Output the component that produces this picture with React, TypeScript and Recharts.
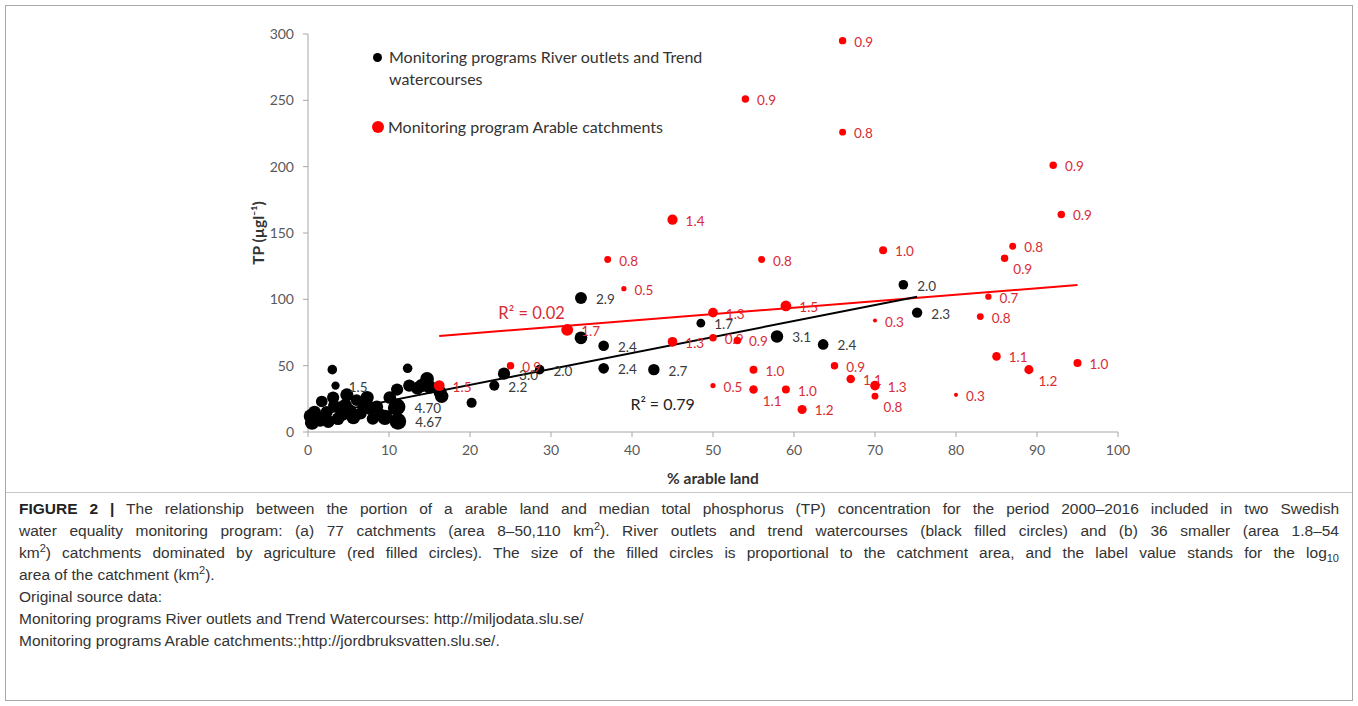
import { ScatterChart, Scatter, XAxis, YAxis, ReferenceLine, ReferenceDot } from 'recharts';

// [% arable land, TP (µg/l), log10 catchment area (km2), label]
const riverPoints: [number, number, number, string][] = [
  [0.3, 12, 3.5, ''], [0.5, 7, 3.8, ''], [0.8, 15, 3.2, ''], [1.0, 10, 3.6, ''],
  [1.5, 9, 3.4, ''], [1.7, 23, 2.8, ''], [2.0, 12, 3.0, ''], [2.3, 15, 3.0, ''],
  [2.5, 8, 3.3, ''], [3.0, 47, 2.0, ''], [3.1, 26, 3.0, ''], [3.2, 20, 2.8, ''],
  [3.7, 10, 3.2, ''], [4.0, 18, 3.6, ''], [4.3, 13, 3.0, ''], [4.6, 20, 3.5, ''],
  [4.8, 28, 3.4, ''], [5.2, 16, 3.2, ''], [5.6, 11, 3.6, ''], [6.0, 24, 2.8, ''],
  [6.5, 14, 3.0, ''], [7.0, 19, 3.8, ''], [7.3, 26, 3.4, ''], [7.7, 18, 3.6, ''],
  [8.0, 10, 3.0, ''], [8.5, 19, 3.2, ''], [9.0, 13, 3.0, ''], [9.5, 11, 4.2, ''],
  [10.1, 26, 3.2, ''], [10.7, 18, 3.6, ''], [11.0, 32, 3.0, ''],
  [12.3, 48, 2.0, ''], [12.5, 35, 3.0, ''], [13.5, 33, 3.2, ''], [14.0, 35, 3.4, ''],
  [14.7, 40, 3.6, ''], [15.0, 34, 3.5, ''], [16.3, 30, 3.3, ''], [16.5, 27, 3.5, ''],
  [20.2, 22, 2.2, ''], [33.7, 71, 3.2, ''],
  [3.4, 35, 1.5, '1.5'], [11.0, 19, 4.7, '4.70'], [11.1, 8, 4.67, '4.67'],
  [23.0, 35, 2.2, '2.2'], [24.2, 44, 3.0, '3.0'], [28.6, 47, 2.0, '2.0'],
  [33.7, 101, 2.9, '2.9'], [36.5, 65, 2.4, '2.4'], [36.5, 48, 2.4, '2.4'],
  [42.7, 47, 2.7, '2.7'], [48.5, 82, 1.7, '1.7'], [57.9, 72, 3.1, '3.1'],
  [63.6, 66, 2.4, '2.4'], [73.5, 111, 2.0, '2.0'], [75.2, 90, 2.3, '2.3'],
];

const arablePoints: [number, number, number, string][] = [
  [66, 295, 0.9, '0.9'], [54, 251, 0.9, '0.9'], [66, 226, 0.8, '0.8'],
  [92, 201, 0.9, '0.9'], [93, 164, 0.9, '0.9'], [45, 160, 1.4, '1.4'],
  [37, 130, 0.8, '0.8'], [56, 130, 0.8, '0.8'], [71, 137, 1.0, '1.0'],
  [87, 140, 0.8, '0.8'], [86, 131, 0.9, '0.9'], [39, 108, 0.5, '0.5'],
  [84, 102, 0.7, '0.7'], [83, 87, 0.8, '0.8'], [70, 84, 0.3, '0.3'],
  [50, 90, 1.3, '1.3'], [59, 95, 1.5, '1.5'], [32, 77, 1.7, '1.7'],
  [45, 68, 1.3, '1.3'], [50, 71, 0.9, '0.9'], [53, 69, 0.9, '0.9'],
  [25, 50, 0.9, '0.9'], [16.2, 35, 1.5, '1.5'], [50, 35, 0.5, '0.5'],
  [55, 47, 1.0, '1.0'], [55, 32, 1.1, '1.1'], [59, 32, 1.0, '1.0'],
  [61, 17, 1.2, '1.2'], [65, 50, 0.9, '0.9'], [67, 40, 1.1, '1.1'],
  [70, 35, 1.3, '1.3'], [70, 27, 0.8, '0.8'], [80, 28, 0.3, '0.3'],
  [85, 57, 1.1, '1.1'], [89, 47, 1.2, '1.2'], [95, 52, 1.0, '1.0'],
];
// labels drawn below-right of the dot
const arableBelow = [10, 25, 31, 34];

const riverTrend = [{ x: 0, y: 11.4 }, { x: 75.2, y: 102 }];
const arableTrend = [{ x: 16.2, y: 72.4 }, { x: 95, y: 110.8 }];

const xTicks = [0, 10, 20, 30, 40, 50, 60, 70, 80, 90, 100];
const yTicks = [0, 50, 100, 150, 200, 250, 300];

const riverData = riverPoints.map(([x, y, logA, label]) => ({ x, y, logA, label, below: false }));
const arableData = arablePoints.map(([x, y, logA, label], i) => ({ x, y, logA, label, below: arableBelow.includes(i) }));

const FONT = 'Lato, "Open Sans", sans-serif';
const RED = '#ff0000';
const RED_TEXT = '#d92b35';

const makeDot = (fill: string, textFill: string, radius: (v: number) => number, gap: number) => (props: any) => {
  const { cx, cy, payload } = props;
  const r = radius(payload.logA);
  return (
    <g>
      <circle cx={cx} cy={cy} r={r} fill={fill} />
      {payload.label ? (
        <text
          x={cx + r + (payload.below ? 5 : gap)}
          y={cy + (payload.below ? 11 : 1)}
          dominantBaseline="central"
          fontSize={13.5}
          fontFamily={FONT}
          fill={textFill}
        >
          {payload.label}
        </text>
      ) : null}
    </g>
  );
};

const riverDot = makeDot('#000', '#3a3a3a', (v) => 2.2 + 1.3 * v, 9);
const arableDot = makeDot(RED, RED_TEXT, (v) => 1.2 + 2.8 * v, 8);

const axisStroke = '#a6a6a6';
const supStyle = { fontSize: 11, lineHeight: 0 };

export default function App() {
  return (
    <div style={{ position: 'absolute', left: 0, top: 0, width: 1358, height: 706, background: '#fff' }}>
      <div style={{ position: 'absolute', left: 5, top: 5, width: 1346, height: 694, border: '1px solid #a8a8a8' }} />
      <div style={{ position: 'absolute', left: 6, top: 492, width: 1346, height: 1, background: '#c8c8c8' }} />

      <div style={{ position: 'absolute', left: 0, top: 0 }}>
        <ScatterChart width={1358} height={490} margin={{ top: 34, right: 240, bottom: 8, left: 248 }}>
          <XAxis
            type="number"
            dataKey="x"
            domain={[0, 100]}
            ticks={xTicks}
            height={50}
            tick={{ fontSize: 14, fill: '#595959', fontFamily: FONT }}
            tickSize={5}
            tickMargin={8}
            axisLine={{ stroke: axisStroke }}
            tickLine={{ stroke: axisStroke }}
            label={{
              content: ({ viewBox }: any) => (
                <text
                  x={viewBox.x + viewBox.width / 2}
                  y={viewBox.y + 52}
                  textAnchor="middle"
                  fontSize={15.5}
                  fontWeight="bold"
                  fontFamily={FONT}
                  fill="#333"
                >
                  % arable land
                </text>
              ),
            }}
          />
          <YAxis
            type="number"
            dataKey="y"
            domain={[0, 300]}
            ticks={yTicks}
            width={60}
            tick={{ fontSize: 14, fill: '#595959', fontFamily: FONT }}
            tickSize={5}
            tickMargin={9}
            axisLine={{ stroke: axisStroke }}
            tickLine={{ stroke: axisStroke }}
            label={{
              content: ({ viewBox }: any) => {
                const lx = viewBox.x + 10;
                const ly = viewBox.y + viewBox.height / 2;
                return (
                  <text
                    x={lx}
                    y={ly}
                    transform={`rotate(-90 ${lx} ${ly})`}
                    textAnchor="middle"
                    dominantBaseline="central"
                    fontSize={15.5}
                    fontWeight="bold"
                    fontFamily={FONT}
                    fill="#333"
                  >
                    TP (µgl⁻¹)
                  </text>
                );
              },
            }}
          />
          <Scatter data={riverData} shape={riverDot} isAnimationActive={false} />
          <Scatter data={arableData} shape={arableDot} isAnimationActive={false} />
          <ReferenceLine segment={arableTrend} stroke={RED} strokeWidth={2} ifOverflow="visible" />
          <ReferenceLine segment={riverTrend} stroke="#000" strokeWidth={2} ifOverflow="visible" />
          <ReferenceDot
            x={23.5}
            y={89.5}
            r={0}
            ifOverflow="visible"
            shape={(p: any) => (
              <text x={p.cx} y={p.cy} dominantBaseline="central" fontSize={16.5} fontFamily={FONT} fill={RED_TEXT}>
                R² = 0.02
              </text>
            )}
          />
          <ReferenceDot
            x={39.8}
            y={21.8}
            r={0}
            ifOverflow="visible"
            shape={(p: any) => (
              <text x={p.cx} y={p.cy} dominantBaseline="central" fontSize={16} fontFamily={FONT} fill="#222">
                R² = 0.79
              </text>
            )}
          />
        </ScatterChart>
      </div>

      {/* legend */}
      <div style={{ position: 'absolute', left: 373, top: 46, fontFamily: FONT, fontSize: 16, color: '#333', lineHeight: '22px' }}>
        <div style={{ display: 'flex', alignItems: 'flex-start' }}>
          <span style={{ width: 9, height: 9, borderRadius: '50%', background: '#000', marginTop: 7, marginRight: 7, flex: 'none' }} />
          <span>
            Monitoring programs River outlets and Trend
            <br />
            watercourses
          </span>
        </div>
        <div style={{ display: 'flex', alignItems: 'center', marginTop: 26, marginLeft: -1 }}>
          <span style={{ width: 12, height: 12, borderRadius: '50%', background: RED, marginRight: 4, flex: 'none' }} />
          <span>Monitoring program Arable catchments</span>
        </div>
      </div>

      {/* caption */}
      <div
        style={{
          position: 'absolute',
          left: 19,
          top: 498,
          width: 1320,
          fontFamily: '"Liberation Sans", Arial, sans-serif',
          fontSize: 15.5,
          lineHeight: '22px',
          color: '#333',
        }}
      >
        {[
          <>
            <b style={{ color: '#222' }}>FIGURE 2 |</b> The relationship between the portion of a arable land and median total phosphorus (TP) concentration for the period 2000–2016 included in two Swedish
          </>,
          <>
            water equality monitoring program: (a) 77 catchments (area 8–50,110 km<sup style={supStyle}>2</sup>). River outlets and trend watercourses (black filled circles) and (b) 36 smaller (area 1.8–54
          </>,
          <>
            km<sup style={supStyle}>2</sup>) catchments dominated by agriculture (red filled circles). The size of the filled circles is proportional to the catchment area, and the label value stands for the log<sub style={supStyle}>10</sub>
          </>,
        ].map((line, i) => (
          <div key={i} style={{ textAlign: 'justify', textAlignLast: 'justify', whiteSpace: 'nowrap' }}>
            {line}
          </div>
        ))}
        <div>
          area of the catchment (km<sup style={supStyle}>2</sup>).
        </div>
        <div>Original source data:</div>
        <div>Monitoring programs River outlets and Trend Watercourses: http://miljodata.slu.se/</div>
        <div>Monitoring programs Arable catchments:;http://jordbruksvatten.slu.se/.</div>
      </div>
    </div>
  );
}
